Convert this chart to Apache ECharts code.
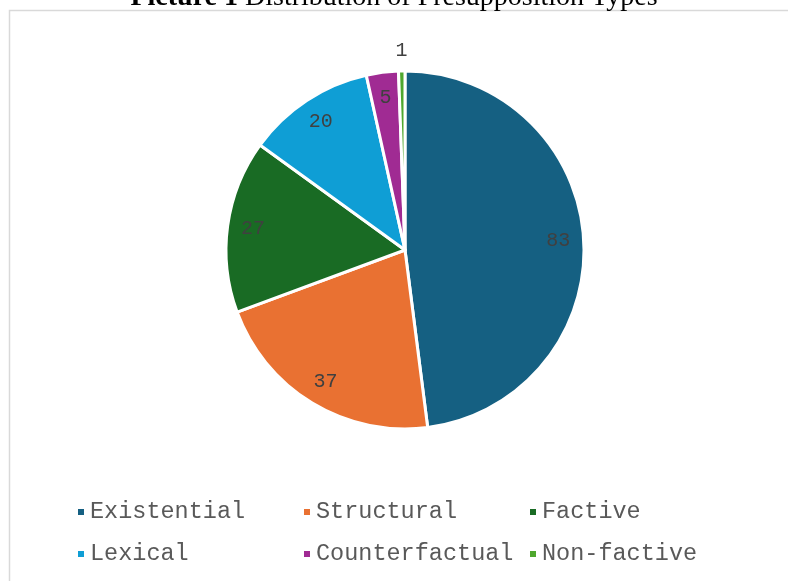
<!DOCTYPE html>
<html>
<head>
<meta charset="utf-8">
<script src="https://cdn.jsdelivr.net/npm/echarts@6/dist/echarts.min.js"></script>
<style>
  html, body { margin: 0; padding: 0; background: #ffffff; }
  #chart { width: 788px; height: 581px; }
</style>
</head>
<body>
<div id="chart"></div>
<script>
const categories = ["Existential", "Structural", "Factive", "Lexical", "Counterfactual", "Non-factive"];
const counts = [83, 37, 27, 20, 5, 1];
const colors = ["#156082", "#E97132", "#196B24", "#0F9ED5", "#A02B93", "#4EA72E"];

const mono = "'Courier New', 'Liberation Mono', monospace";
const center = [405, 250];
const outer = 179;

const chart = echarts.init(document.getElementById("chart"), null, { renderer: "canvas" });

const sliceData = categories.map((name, i) => ({
  name,
  value: counts[i],
  itemStyle: { color: colors[i] }
}));

// transparent ring that only carries the value labels further out than "inside"
const labelData = categories.map((name, i) => {
  const item = { name, value: counts[i] };
  if (i === categories.length - 1) {
    item.label = {
      position: "outside",
      distanceToLabelLine: -6
    };
    item.labelLine = { show: false, length: 20, length2: 0 };
  }
  return item;
});

chart.setOption({
  animation: false,
  backgroundColor: "#ffffff",
  title: {
    text: "{b|Picture 1} Distribution of Presupposition Types",
    left: "center",
    top: -21,
    textStyle: {
      fontFamily: "'Liberation Serif', serif",
      fontSize: 28,
      fontWeight: "normal",
      color: "#000000",
      rich: {
        b: { fontFamily: "'Liberation Serif', serif", fontSize: 28, fontWeight: "bold", color: "#000000" }
      }
    }
  },
  legend: {
    data: categories,
    left: 71,
    top: 492,
    width: 690,
    orient: "horizontal",
    icon: "rect",
    itemWidth: 8,
    itemHeight: 8,
    itemGap: 12,
    selectedMode: false,
    textStyle: {
      fontFamily: mono,
      fontSize: 23.5,
      color: "#595959",
      width: 200,
      lineHeight: 30
    }
  },
  graphic: [
    {
      type: "rect",
      silent: true,
      shape: { x: 9.5, y: 10.5, width: 800, height: 600 },
      style: { fill: "none", stroke: "#d9d9d9", lineWidth: 1.5 }
    }
  ],
  series: [
    {
      name: "Types",
      type: "pie",
      center,
      radius: [0, outer],
      startAngle: 90,
      clockwise: true,
      avoidLabelOverlap: false,
      itemStyle: { borderColor: "#ffffff", borderWidth: 3 },
      label: { show: false },
      labelLine: { show: false },
      emphasis: { disabled: true },
      data: sliceData
    },
    {
      name: "Labels",
      type: "pie",
      center,
      radius: [122, outer],
      startAngle: 90,
      clockwise: true,
      silent: true,
      avoidLabelOverlap: false,
      legendHoverLink: false,
      itemStyle: { color: "rgba(0,0,0,0)" },
      label: {
        show: true,
        position: "inside",
        formatter: "{c}",
        fontFamily: mono,
        fontSize: 20,
        color: "#404040"
      },
      labelLine: { show: false },
      emphasis: { disabled: true },
      data: labelData
    }
  ]
});
</script>
</body>
</html>
